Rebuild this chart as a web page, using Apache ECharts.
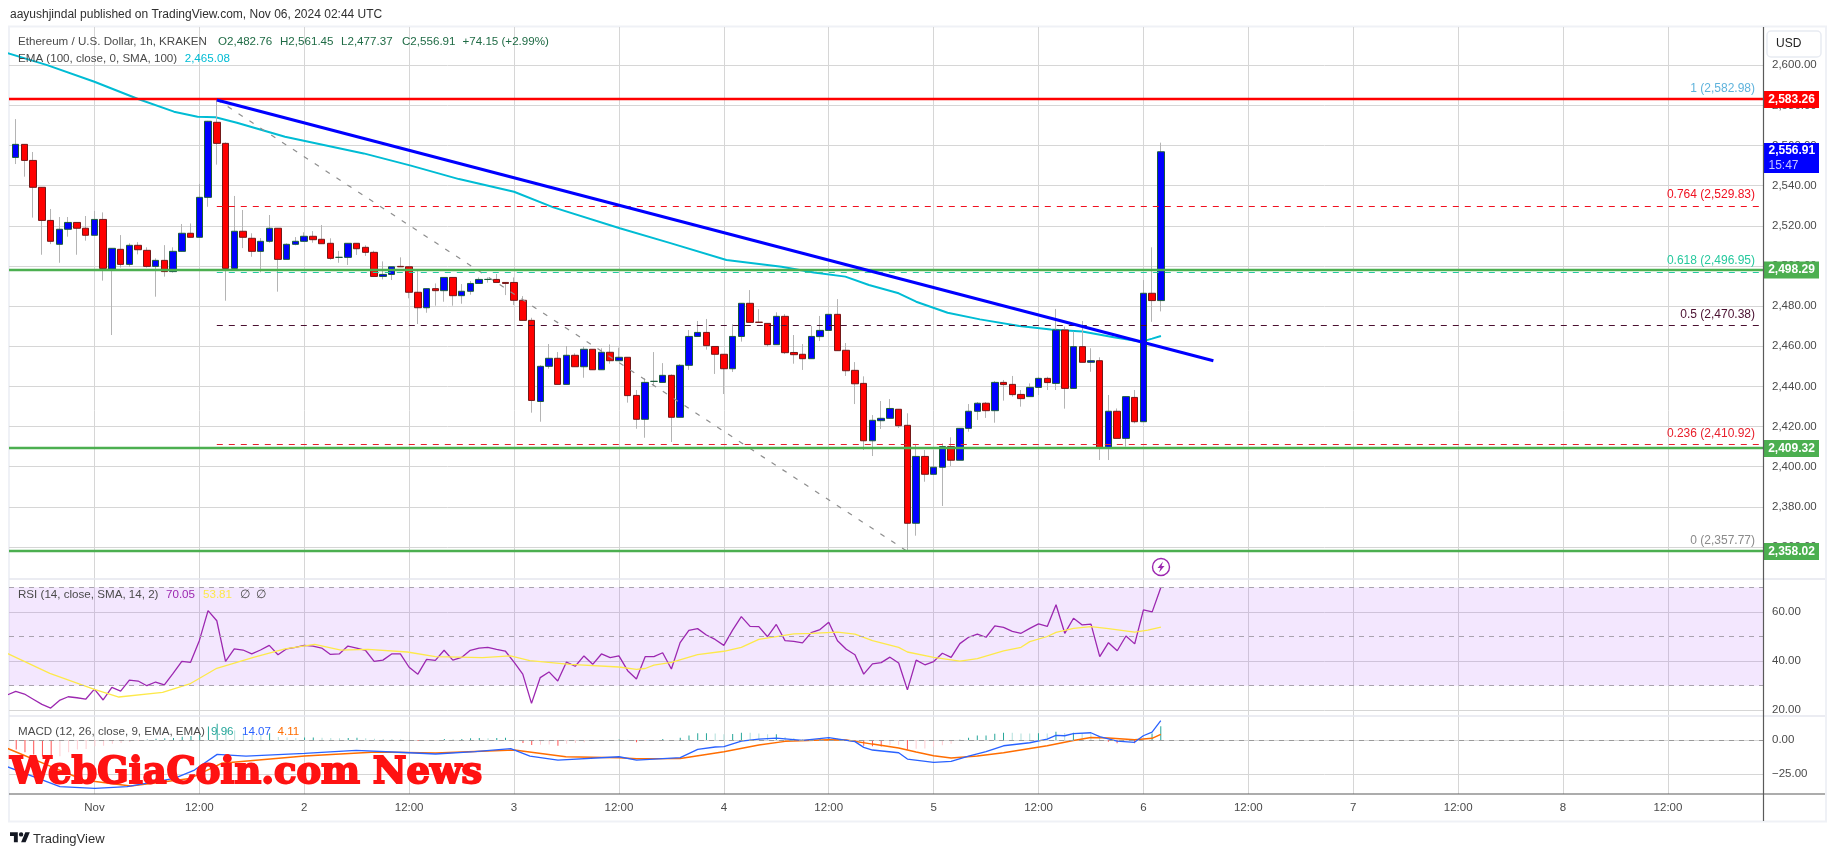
<!DOCTYPE html>
<html>
<head>
<meta charset="utf-8">
<style>html,body{margin:0;padding:0;background:#fff;overflow:hidden}#c{width:1835px;height:857px}</style>
<script src="https://cdn.jsdelivr.net/npm/echarts@6/dist/echarts.min.js"></script>
</head>
<body>
<div id="c"></div>
<script>
// Hour 0 is 1 Nov 2024 00:00 UTC; first candle is hour -9
const FIRST_BAR_HOUR = -9;
const opens = [
2554.1,2560.6,2552.6,2539.2,2522.7,2510.8,2518.3,2521.7,2518.8,2515.3,2523.2,2498.5,
2508.3,2500.8,2510.3,2507.8,2499.8,2502.8,2497.2,2507.3,2516.3,2514.3,2534.2,2571.6,
2561.1,2498.8,2517.3,2513.8,2507.3,2512.3,2518.8,2503.3,2510.8,2512.3,2514.8,2513.3,
2511.3,2504.3,2504.3,2511.3,2509.3,2506.8,2494.8,2495.8,2499.8,2499.6,2486.9,2479.2,
2488.7,2487.7,2494.3,2485.2,2487.4,2491.3,2493.3,2493.3,2491.8,2491.8,2482.9,2472.9,
2432.5,2450,2454,2441,2455.5,2449.8,2458.5,2448.3,2457,2452.8,2454.5,2435.5,
2423.6,2442.5,2442,2445.5,2424.6,2450.5,2464.9,2466.9,2459.9,2456,2448.8,2464.9,
2481.4,2472,2471.4,2460.8,2474.9,2456.9,2456,2453.8,2464.8,2467.9,2475.9,2458,
2448,2441.5,2412.9,2422.9,2424.1,2428.6,2420.6,2371.8,2405.1,2396.2,2399.7,2410,
2403.2,2419.1,2427.6,2431.6,2427.9,2442,2441,2436,2434.9,2439.5,2444,2441.5,
2468.1,2439,2459.8,2452,2452.8,2409.1,2427.6,2414.1,2434.5,2422.4,2486.4,2482.76];
const closes = [
2560.6,2552.6,2539.2,2522.7,2512.3,2518.3,2521.7,2518.8,2515.3,2523.2,2498.8,2508.8,
2500.8,2510.3,2508.1,2499.8,2502.8,2497.2,2507.3,2516.3,2514.3,2534.2,2572.1,2561.1,
2498.8,2517.3,2514.3,2507.3,2512.3,2518.8,2503.3,2510.8,2512.3,2514.8,2513.1,2511.1,
2503.8,2504.3,2511.3,2508.6,2506.8,2494.8,2495.8,2499.6,2499.6,2486.9,2479.2,2488.7,
2487.7,2494.3,2485.2,2487.4,2491.3,2493.3,2493.3,2491.8,2491.3,2482.9,2472.9,2433,
2450,2454,2441,2455.5,2449.8,2458.5,2448.3,2457,2452.8,2454.5,2435.4,2423.6,
2442,2442.5,2445.5,2424.6,2450.5,2464.9,2466.9,2460.3,2456,2448.8,2464.9,2481.4,
2471.9,2471.9,2460.8,2474.9,2456.8,2455.8,2453.8,2464.9,2467.9,2475.9,2457.8,2447.8,
2441.3,2412.9,2423.1,2424.1,2429,2420.4,2371.8,2405.1,2396.2,2399.7,2410,2403.2,
2419.1,2427.6,2431.6,2427.9,2442,2440.9,2435.9,2433.9,2439.5,2444,2441.9,2468.1,
2439,2459.8,2452,2452.8,2409.1,2427.6,2414.1,2434.9,2422.4,2486.4,2482.76,2556.91];
const highs = [
2573.2,2560.6,2556.8,2539.2,2528.4,2524.4,2524.4,2521.7,2524.9,2527.4,2526.7,2508.8,
2515.4,2511.3,2511.9,2509.3,2503.8,2510.4,2509.3,2520.9,2521.2,2540.8,2572.3,2582.98,
2561.6,2534.9,2527.9,2516.3,2513.9,2525.4,2518.8,2511.3,2514.4,2516.8,2517.4,2520.4,
2513.8,2507.5,2511.3,2511.3,2510.3,2507.6,2502.3,2499.6,2504.3,2499.7,2498,2488.7,
2491.3,2494.3,2494.3,2491,2492.5,2494.3,2494.3,2496,2491.8,2494.3,2485,2474.2,
2450.5,2461.1,2457.1,2460.1,2456.5,2459.8,2458.5,2459,2460.9,2459.3,2454.5,2438.2,
2444,2457.1,2451.6,2446,2451.1,2468.1,2472.6,2473.6,2459.9,2456,2470.9,2481.4,
2488,2478.5,2471.4,2476.9,2476,2465.6,2461.1,2470.2,2475.1,2475.9,2483.5,2461.6,
2452.1,2445,2425.7,2432.7,2433.7,2428.6,2426.6,2411.3,2408.3,2408.3,2411.6,2414.6,
2419.1,2431.2,2432.2,2432.2,2442.7,2443.2,2445.2,2438.2,2441.5,2444.8,2444.8,2478.6,
2469.8,2467.3,2472.6,2459,2454.5,2435.7,2429,2434.9,2438.2,2493,2509.3,2561.45];
const lows = [
2550.8,2544.5,2524.1,2505.6,2510.9,2501.6,2514.6,2505.6,2512.6,2515.3,2492.7,2465.6,
2499.2,2499.6,2505.8,2499.2,2484.7,2494.7,2496.7,2507.3,2514.3,2514.3,2529.5,2550.5,
2482.7,2498.8,2508.9,2504.6,2496.8,2511.6,2487.2,2503.3,2510.3,2512.1,2511.6,2511.1,
2503.1,2501.6,2500.5,2505.5,2505,2494.8,2493.3,2493,2499.5,2483.9,2471.1,2476.7,
2480.2,2482.2,2480.2,2481.2,2485.7,2491.3,2491.7,2491.8,2485.5,2480.5,2472.9,2426.9,
2422.4,2448.8,2441,2441,2449.8,2444.3,2448.3,2448.3,2451.3,2452.8,2431.9,2418.9,
2414.4,2440.2,2442,2412.3,2424.6,2448.2,2464.9,2458.3,2446.2,2436.2,2447.2,2462.3,
2471.9,2471.9,2459.8,2460.8,2456.1,2451.3,2448.2,2453.8,2462.6,2467.9,2457.8,2445.2,
2431.2,2408.3,2405.3,2418.8,2424.1,2419.3,2357.77,2365.6,2392.5,2396.2,2380.4,2400.3,
2403.2,2417.4,2423.3,2424.3,2421.9,2432.9,2434.9,2429.9,2434.9,2435.7,2438.2,2438.2,
2428.9,2439,2452,2447.3,2403.3,2403.3,2414.1,2410,2421.6,2422.4,2472.2,2477.37];

const emaHours = [-10,-5.4,0,5,9.1,11.8,13.85,16.3,21.8,30.8,36.2,41.7,48,52.5,60.1,65.8,72.3,78.6,82.3,85.9,88.6,92,94,97.6,101.3,105.8,109.4,113,116.6,119.8,121,122];
const emaValues = [2606.2,2600.1,2591.8,2583.2,2576.9,2574.4,2574.1,2571.4,2564.4,2556.1,2550,2543.3,2537,2529.2,2518.8,2511.5,2503,2499.6,2496.7,2494.7,2490.5,2486.4,2482.2,2476.7,2473.4,2470.1,2468.4,2467.3,2464.5,2462.3,2463.8,2465.08];

const rsiFirstHour = -10;
const rsiValues = [26.2,
27.7,26.6,24.5,22.4,20.9,24,25.5,25.1,24.5,28.6,24.2,29.3,
27.8,32.3,31.9,30,31.5,30.3,35,39.9,39.5,48.3,60.5,56.4,
39.9,45,44.5,42.9,44.5,46.4,42.6,45,45.6,46.4,46.1,45.3,
42.7,42.9,46.1,45.3,44.4,39.9,40.4,42.9,42.9,37.5,34.7,40.7,
40.3,44.4,40.4,41.5,44.4,45.3,45.6,44.8,44.1,39.6,34.7,22.8,
33.3,35.6,31.9,39.6,37.9,42.1,38.7,42.9,41.4,42.1,36.1,32.7,
41.8,41.8,43.4,36.8,47.5,52.5,53.2,50.6,48.8,46.4,52.6,58.1,
54.1,54,49.9,54.9,48.3,48,47.4,51.6,52.8,55.8,48.3,44.8,
42.6,34.7,38.9,39.4,41.6,39.2,28.3,40.4,38.5,39.8,43.2,41.5,
47.1,49.7,51,49.7,54.3,53.7,52.1,51.3,53.3,55.1,54.1,62.9,
51.3,57.4,54.7,55,41.8,47.5,44.2,50.2,47,60.8,60,70.05];
const rsiSmaHours = [-10,-5.1,0,2.8,7.8,10.9,13.9,18.2,21.8,25.2,28.2,31.3,35.8,39,44.4,47.6,49.8,54.4,60,62,63,64,66,69,72,74,76,80,82,85,87,89,92,93,96,99,101,104,106,107,109,110,112,114,116,119,120.5,122];
const rsiSmaValues = [43.2,35,28.5,25.4,27.3,30.7,36.9,41.5,45,46.8,44.5,44.8,43.7,41.8,41.4,42.1,40.2,38.7,37.6,36.6,37,38.4,39.5,42.6,44,45.6,48.8,51.1,51.3,51.8,51,48.3,45.6,43.7,41.5,40,41,44.2,45.6,47.9,50,51.7,53.3,54,53.2,51.8,52.6,53.81];

const macdHours = [-10,-4,0,3.7,9.1,11.4,14,17.3,24,29.9,36,39,43.5,47.6,49.8,53,60,62,66,67,69,71,72,74,76,78,81,84,87,88,89,92,93,96,98,100,102,104,107,109,110,111,112,114,115,117,119,120,121,122];
const macdValues = [-19.5,-34,-35.3,-34,-28,-21.9,-10.5,-11.7,-9.75,-7.6,-9.3,-10.2,-8.5,-6.3,-11.7,-14.6,-12.2,-14.6,-13.2,-12.9,-6.8,-5.1,-4.9,-0.8,0.7,1.4,-0.3,1.7,-1.2,-5.4,-7.3,-9.3,-13.9,-16.3,-15.6,-11.7,-8.5,-4.2,-2,0.7,3.4,3.1,4.6,5.3,2.4,-0.8,-1.7,3.1,5.8,14.07];
const signalHours = [-10,-5.4,-1.3,4.1,10.9,14.5,24,32.2,39,48,53.9,60,62,67,72,76,79,84,86,89,92,94,96,98,101,104,109,112,114,116,119,121,122];
const signalValues = [-6.1,-18.3,-29.2,-33.6,-28,-17,-11.7,-8.8,-9.5,-7.3,-12.2,-12.9,-13.6,-13.4,-8.5,-3.7,-1,0.2,0,-3,-5.9,-8.8,-11.5,-13.2,-11.7,-9.3,-4.2,-0.3,1.9,1.4,0.2,1.2,4.11];
const histValues = [
-7,-9,-10.5,-12,-13,-11.9,-9,-7,-6.6,-4.6,-4.2,-2.7,
-2.2,-1.4,-0.5,0.4,1,1.2,1.5,2.4,2.9,3.8,9.9,11.9,
8.7,7,5,3.9,3.6,5,2.2,1.9,1.5,1.9,1.9,1.6,
1.4,1.2,1.5,1.7,1.2,0.9,0.8,0.7,0.6,-0.3,-0.7,-0.4,
-0.3,0.7,0.6,0.7,1.2,1.4,1.3,1.4,1.7,0.2,-2.2,-3.6,
-3.5,-3.2,-4.1,-2.7,-2.2,-1.7,-0.5,-0.3,-0.2,0.4,0.1,-1.7,
-0.7,-0.3,0.7,-0.2,1.7,3.2,4.9,5,4.8,4.1,4.3,5.3,
5.2,4.8,4.1,4.2,2.2,1.4,0.7,0.6,0.7,1.2,0.9,0.2,
-1.2,-4.1,-4.6,-4.7,-3.9,-3.8,-7.1,-6.3,-6.2,-4.9,-3.9,-2.7,
0.1,1.7,3.2,3.3,4.6,5.3,5.2,4.8,4.7,4.9,4.8,6,
5.1,5.2,5.1,5,2.2,-1.2,-2.4,-0.7,-2.4,-0.3,4.8,9.96];

// Tick ranges: each min is a multiple of the interval; the ends fall just outside the visible pane
const priceTicks = {min:2340, max:2620, interval:20};
const rsiTicks = {min:0, max:80, interval:20};
const macdTicks = {min:-50, max:25, interval:25};

const fibStartHour = 14, fibEndHour = 93;
const fibLevels = [
 {ratio:'1',     price:2582.98, color:'#5fb3dc'},
 {ratio:'0.764', price:2529.83, color:'#f01020'},
 {ratio:'0.618', price:2496.95, color:'#26c99e'},
 {ratio:'0.5',   price:2470.38, color:'#4a1030'},
 {ratio:'0.236', price:2410.92, color:'#e8202c'},
 {ratio:'0',     price:2357.77, color:'#8a8a8a'}];
const trendHours = [14,128], trendPrices = [2582.7,2452.8];
const supportLevels = [2498.29,2409.32,2358.02];
const resistanceLevel = 2583.26;
const lastPrice = 2556.91, countdown = '15:47';

const T0 = Date.UTC(2024,10,1), H = 3600e3;
const t = h => T0 + h*H;
const XMIN = t(-9.77), XMAX = t(190.87);
const barT = opens.map((_,i)=>t(FIRST_BAR_HOUR+i));
const fmt2 = v => v.toLocaleString('en-US',{minimumFractionDigits:2,maximumFractionDigits:2});
const FONT = '"Liberation Sans",sans-serif';
const TXT = '#4a4a4a', GRID='#d6d6d6';

const pair = (hs,vs)=>hs.map((h,i)=>[t(h),vs[i]]);

function xAxis(gridIndex, ruler){
  return {type:'time',gridIndex,min:XMIN,max:XMAX,minInterval:13*H,maxInterval:13*H,splitNumber:16,
    axisLine:{show:false},axisTick:{show:false},
    splitLine:{show:ruler,showMinLine:false,showMaxLine:false,lineStyle:{color:GRID,width:1}},
    axisLabel:{show:ruler,hideOverlap:false,margin:8,color:TXT,fontFamily:FONT,fontSize:11.5,
      formatter:v=>{const d=new Date(v);
        if(d.getUTCMinutes()||d.getUTCSeconds()||d.getUTCHours()%12) return '';
        if(d.getUTCHours()===12) return '12:00';
        return d.getUTCDate()===1?'Nov':String(d.getUTCDate());}}};
}
function yAxis(gridIndex,tk){
  return {type:'value',gridIndex,position:'right',min:tk.min,max:tk.max,interval:tk.interval,
    axisLine:{show:false},axisTick:{show:false},
    splitLine:{show:true,showMinLine:false,showMaxLine:false,lineStyle:{color:GRID,width:1}},
    axisLabel:{show:true,margin:9,align:'left',color:TXT,fontFamily:FONT,fontSize:11.5,
      showMinLabel:false,showMaxLabel:false,
      formatter:v=>fmt2(v).replace('-','\u2212')}};
}

const wickSeries = {type:'candlestick',xAxisIndex:0,yAxisIndex:0,barWidth:1,z:2,silent:true,animation:false,
  itemStyle:{color:'#b4b4b4',color0:'#b4b4b4',borderColor:'#b4b4b4',borderColor0:'#b4b4b4',borderColorDoji:'#b4b4b4',borderWidth:1},
  data:barT.map((x,i)=>[x,opens[i],closes[i],lows[i],highs[i]])};
const bodySeries = {type:'candlestick',xAxisIndex:0,yAxisIndex:0,barWidth:7,z:3,silent:true,animation:false,
  itemStyle:{color:'#0000ff',color0:'#ff0000',borderColor:'#1a5c3a',borderColor0:'#741818',borderColorDoji:'#1a5c3a',borderWidth:1},
  data:barT.map((x,i)=>[x,opens[i],closes[i],Math.min(opens[i],closes[i]),Math.max(opens[i],closes[i])])};

function badge(v,bg){
  return {coord:[XMAX,v],symbol:'rect',symbolSize:[55,17],symbolOffset:[28.5,0.5],
    itemStyle:{color:bg,borderWidth:0},
    label:{show:true,position:'inside',formatter:fmt2(v),color:'#fff',fontFamily:FONT,fontSize:12,fontWeight:'bold'}};
}

const series = [
 wickSeries, bodySeries,
 {type:'line',name:'EMA',xAxisIndex:0,yAxisIndex:0,z:2,silent:true,animation:false,symbol:'none',
  lineStyle:{color:'#00bcd4',width:2},data:pair(emaHours,emaValues)},
 {type:'line',name:'Fib',xAxisIndex:0,yAxisIndex:0,z:4,silent:true,animation:false,symbol:'none',
  lineStyle:{color:'#8e8e8e',width:1.2,type:[5,8]},
  data:[[t(fibStartHour),fibLevels[0].price],[t(fibEndHour),fibLevels[5].price]],
  markLine:{silent:true,animation:false,symbol:'none',
    data:fibLevels.map(f=>[{coord:[t(fibStartHour),f.price],lineStyle:{color:f.color,width:1,type:[6,6]},
      label:{show:true,position:'insideEndTop',distance:5,formatter:f.ratio+' ('+fmt2(f.price)+')',color:f.color,fontFamily:FONT,fontSize:12,padding:[0,3,0,0]}},
      {coord:[XMAX,f.price]}])}},
 {type:'line',name:'Levels',xAxisIndex:0,yAxisIndex:0,z:6,silent:true,animation:false,symbol:'none',
  lineStyle:{color:'#0000ff',width:3},data:pair(trendHours,trendPrices),
  markLine:{silent:true,animation:false,symbol:'none',label:{show:false},
    data:[{yAxis:resistanceLevel,lineStyle:{color:'#ff0000',width:2.4,type:'solid'}}]
      .concat(supportLevels.map(v=>({yAxis:v,lineStyle:{color:'#4caf50',width:2.4,type:'solid'}})))},
  markPoint:{silent:true,animation:false,
    data:[badge(resistanceLevel,'#ff0000')].concat(supportLevels.map(v=>badge(v,'#4caf50')),[
      {coord:[XMAX,lastPrice],symbol:'rect',symbolSize:[55,30],symbolOffset:[28.5,6.2],
       itemStyle:{color:'#0000ff',borderWidth:0},
       label:{show:true,position:'inside',
         formatter:'{a|'+fmt2(lastPrice)+'}\n{b|'+countdown+'}',
         rich:{a:{color:'#fff',fontFamily:FONT,fontSize:12,fontWeight:'bold',width:46,align:'left',lineHeight:15},
               b:{color:'#c4c4ff',fontFamily:FONT,fontSize:12,width:46,align:'left',lineHeight:15}}}}])}},
 {type:'line',name:'RSI',xAxisIndex:1,yAxisIndex:1,z:3,silent:true,animation:false,symbol:'none',
  lineStyle:{color:'#9c27b0',width:1.3},data:rsiValues.map((v,i)=>[t(rsiFirstHour+i),v]),
  markArea:{silent:true,animation:false,itemStyle:{color:'rgba(156,60,245,0.12)'},data:[[{yAxis:70},{yAxis:30}]]},
  markLine:{silent:true,animation:false,symbol:'none',label:{show:false},
    lineStyle:{color:'#a9a3ae',width:1,type:[5,5]},data:[{yAxis:70},{yAxis:50},{yAxis:30}]}},
 {type:'line',name:'RSI SMA',xAxisIndex:1,yAxisIndex:1,z:3,silent:true,animation:false,symbol:'none',
  lineStyle:{color:'#fde94a',width:1.3},data:pair(rsiSmaHours,rsiSmaValues)},
 {type:'bar',name:'Hist',xAxisIndex:2,yAxisIndex:2,z:2,silent:true,animation:false,barWidth:1,
  data:histValues.map((v,i)=>{const p=i?histValues[i-1]:v;
    return {value:[barT[i],v],itemStyle:{color:v>=0?(v>=p?'#26a69a':'#b2dfdb'):(v<=p?'#ff5252':'#ffcdd2')}};}),
  markLine:{silent:true,animation:false,symbol:'none',label:{show:false},
    lineStyle:{color:'#9a9a9a',width:1,type:[5,5]},data:[{yAxis:0}]}},
 {type:'line',name:'Signal',xAxisIndex:2,yAxisIndex:2,z:3,silent:true,animation:false,symbol:'none',
  lineStyle:{color:'#ff6d00',width:1.5},data:pair(signalHours,signalValues)},
 {type:'line',name:'MACD',xAxisIndex:2,yAxisIndex:2,z:4,silent:true,animation:false,symbol:'none',
  lineStyle:{color:'#2962ff',width:1.3},data:pair(macdHours,macdValues)}
];

const tx=(x,y,text,fill,size,extra)=>Object.assign({type:'text',z:50,silent:true,x,y,
  style:{text,fill,font:(size||11.6)+'px '+FONT,textVerticalAlign:'middle',textBaseline:'middle'}},extra||{});
const ln=(x1,y1,x2,y2,stroke,w,z)=>({type:'line',z:z||40,silent:true,shape:{x1,y1,x2,y2},style:{stroke,lineWidth:w||1}});
const GREEN='#1f6b45';
const graphic=[
 {type:'rect',z:-1,silent:true,shape:{x:9,y:26.5,width:1817,height:795},style:{fill:'none',stroke:'#eff1f6',lineWidth:2}},
 ln(9,579,1825,579,'#e4e6ee',1.5),
 ln(9,716,1825,716,'#e4e6ee',1.5),
 ln(9,794,1825,794,'#5a5a5a',1.2),
 ln(1763.5,27,1763.5,821,'#5a5a5a',1.2),
 tx(10,15,'aayushjindal published on TradingView.com, Nov 06, 2024 02:44 UTC','#2f2f2f',12),
 tx(18,41.7,'Ethereum / U.S. Dollar, 1h, KRAKEN',TXT),
 tx(218,41.7,'O2,482.76',GREEN), tx(280,41.7,'H2,561.45',GREEN), tx(341,41.7,'L2,477.37',GREEN), tx(402,41.7,'C2,556.91',GREEN),
 tx(462.5,41.7,'+74.15 (+2.99%)',GREEN),
 tx(18,58.7,'EMA (100, close, 0, SMA, 100)',TXT), tx(184.7,58.7,'2,465.08','#00bcd4'),
 tx(18,595,'RSI (14, close, SMA, 14, 2)',TXT), tx(166,595,'70.05','#9c27b0'), tx(203,595,'53.81','#fde94a'),
 tx(240,595,'\u2205',TXT), tx(255.5,595,'\u2205',TXT),
 tx(18,731.7,'MACD (12, 26, close, 9, EMA, EMA)',TXT), tx(211,731.7,'9.96','#26a69a'), tx(242,731.7,'14.07','#2962ff'), tx(277.6,731.7,'4.11','#ff6d00'),
 {type:'rect',z:45,silent:true,shape:{x:1767,y:31,width:54,height:26,r:4},style:{fill:'#fff',stroke:'#e8ebf2',lineWidth:1.5}},
 tx(1776,44,'USD','#222',12),
 {type:'circle',z:45,silent:true,shape:{cx:1161,cy:567,r:8.5},style:{fill:'#fff',stroke:'#9c27b0',lineWidth:1.4}},
 {type:'polygon',z:46,silent:true,shape:{points:[[1163,561.5],[1157.5,568],[1160.5,568],[1159,572.5],[1164.5,566],[1161.5,566]]},style:{fill:'#9c27b0'}},
 {type:'text',z:60,silent:true,x:10,y:773,scaleX:0.89,scaleY:0.82,style:{text:'WebGiaCoin.com News',fill:'#ff1212',stroke:'#ff1212',lineWidth:2.2,
   font:'bold 46px "DejaVu Serif Condensed","DejaVu Serif",serif',textBaseline:'middle',textVerticalAlign:'middle'}},
 {type:'polygon',z:50,silent:true,shape:{points:[[10,832.2],[17.8,832.2],[17.8,842.2],[13.9,842.2],[13.9,836.1],[10,836.1]]},style:{fill:'#131722'}},
 {type:'polygon',z:50,silent:true,shape:{points:[[25.3,832.2],[29.8,832.2],[25.6,842.2],[21.1,842.2]]},style:{fill:'#131722'}},
 {type:'circle',z:50,silent:true,shape:{cx:21.1,cy:834.4,r:2.2},style:{fill:'#131722'}},
 tx(33,839,'TradingView','#2f2f2f',13)
];

const chart = echarts.init(document.getElementById('c'),null,{renderer:'canvas'});
chart.setOption({
  animation:false,useUTC:true,backgroundColor:'#fff',
  tooltip:{show:false},
  grid:[
    {left:9,width:1754,top:25.17,height:561.9},
    {left:9,width:1754,top:562.7,height:196.8},
    {left:9,width:1754,top:705.7,height:102.9},
    {left:9,width:1754,top:27,height:767}],
  xAxis:[xAxis(0,false),xAxis(1,false),xAxis(2,false),xAxis(3,true)],
  yAxis:[yAxis(0,priceTicks),yAxis(1,rsiTicks),yAxis(2,macdTicks),
    {type:'value',gridIndex:3,min:0,max:1,show:false,splitLine:{show:false}}],
  series,graphic
});
</script>
</body>
</html>
